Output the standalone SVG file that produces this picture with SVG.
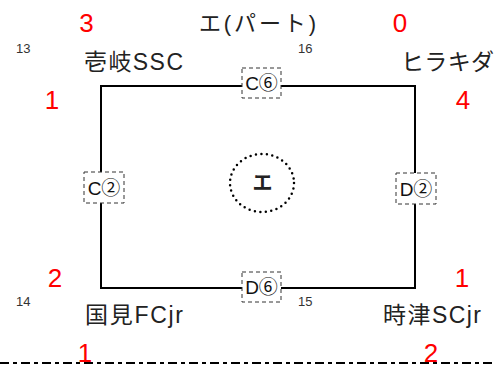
<svg xmlns="http://www.w3.org/2000/svg" width="496" height="368" viewBox="0 0 496 368">
<style>
.t{font-family:"Liberation Sans","Noto Sans CJK JP",sans-serif;fill:#222}
.team{font-size:23px}
.red{font-family:"Liberation Sans",sans-serif;font-size:26px;fill:#ff0000;text-anchor:middle}
.small{font-family:"Liberation Sans",sans-serif;font-size:13px;fill:#333}
.box{fill:#fff;stroke:#333;stroke-width:1;stroke-dasharray:4 3}
.lbl{font-family:"Liberation Sans","Noto Sans CJK JP",sans-serif;font-size:19px;fill:#111;text-anchor:middle}
.edge{fill:none;stroke:#000;stroke-width:2}
</style>
<rect width="496" height="368" fill="#fff"/>
<g id="connectors">
<path class="edge" d="M101 86 H415 V288 H101 Z"/>
<line x1="0" y1="363" x2="496" y2="363" stroke="#000" stroke-width="2" stroke-dasharray="9 4 4 4"/>
</g>
<g id="title"><text class="t" x="199" y="31" font-size="22" textLength="117" lengthAdjust="spacing">エ(パート)</text></g>
<g id="team-iki">
<text class="red" x="86.5" y="32">3</text>
<text class="small" x="16" y="53">13</text>
<text class="t team" x="84" y="70" textLength="99" lengthAdjust="spacing">壱岐SSC</text>
<text class="red" x="52" y="109">1</text>
</g>
<g id="team-hirakida">
<text class="red" x="400" y="32">0</text>
<text class="small" x="298" y="53">16</text>
<text class="t team" x="401" y="70" textLength="93" lengthAdjust="spacing">ヒラキダ</text>
<text class="red" x="463" y="109">4</text>
</g>
<g id="team-kunimi">
<text class="red" x="55" y="287">2</text>
<text class="small" x="16" y="306">14</text>
<text class="t team" x="85" y="323" textLength="98" lengthAdjust="spacing">国見FCjr</text>
<text class="red" x="85" y="362">1</text>
</g>
<g id="team-togitsu">
<text class="red" x="462" y="287">1</text>
<text class="small" x="298" y="306">15</text>
<text class="t team" x="383" y="323" textLength="98" lengthAdjust="spacing">時津SCjr</text>
<text class="red" x="431" y="362">2</text>
</g>
<g id="match-c6"><rect class="box" x="242" y="68" width="39" height="30"/><text class="lbl" x="261.5" y="90">C⑥</text></g>
<g id="match-d6"><rect class="box" x="242" y="272" width="39" height="30"/><text class="lbl" x="261.5" y="294">D⑥</text></g>
<g id="match-c2"><rect class="box" x="84" y="172" width="40" height="31"/><text class="lbl" x="104" y="195">C②</text></g>
<g id="match-d2"><rect class="box" x="396" y="173" width="40" height="31"/><text class="lbl" x="416" y="196">D②</text></g>
<g id="venue">
<ellipse cx="262" cy="183" rx="32" ry="29" fill="none" stroke="#000" stroke-width="2.5" stroke-linecap="round" stroke-dasharray="0 5.5"/>
<text class="t" x="262.5" y="190" font-size="20" font-weight="bold" text-anchor="middle" fill="#000">エ</text>
</g>
</svg>
